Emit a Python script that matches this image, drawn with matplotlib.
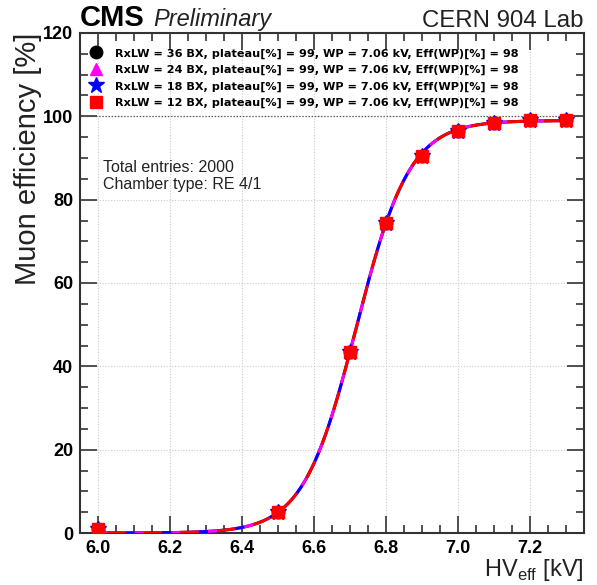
import numpy as np
import matplotlib
matplotlib.use("Agg")
import matplotlib.pyplot as plt
from matplotlib.ticker import MultipleLocator

plt.rcParams["font.family"] = ["Liberation Sans", "DejaVu Sans"]
plt.rcParams["mathtext.fontset"] = "custom"
plt.rcParams["mathtext.rm"] = "Liberation Sans"

# Data
hv = [6.0, 6.5, 6.7, 6.8, 6.9, 7.0, 7.1, 7.2, 7.3]
eff_36 = [1.0, 5.0, 43.5, 74.5, 90.5, 96.5, 98.5, 99.0, 99.0]
eff_24 = [1.0, 5.0, 43.5, 74.5, 90.5, 96.5, 98.5, 99.0, 99.0]
eff_18 = [1.0, 5.0, 43.5, 74.5, 90.5, 96.5, 98.5, 99.0, 99.0]
eff_12 = [1.0, 5.0, 43.5, 74.5, 90.5, 96.5, 98.5, 99.0, 99.0]
# Sigmoid fit parameters (plateau, slope, HV50) per series
fit_plateau = [99.0, 99.0, 99.0, 99.0]
fit_slope = [13.5, 13.5, 13.5, 13.5]
fit_hv50 = [6.718, 6.718, 6.718, 6.718]
labels = [
    "RxLW = 36 BX, plateau[%] = 99, WP = 7.06 kV, Eff(WP)[%] = 98",
    "RxLW = 24 BX, plateau[%] = 99, WP = 7.06 kV, Eff(WP)[%] = 98",
    "RxLW = 18 BX, plateau[%] = 99, WP = 7.06 kV, Eff(WP)[%] = 98",
    "RxLW = 12 BX, plateau[%] = 99, WP = 7.06 kV, Eff(WP)[%] = 98",
]
xticks = [6.0, 6.2, 6.4, 6.6, 6.8, 7.0, 7.2]
yticks = [0, 20, 40, 60, 80, 100, 120]
colors = ["black", "magenta", "blue", "red"]
markers = ["o", "^", "*", "s"]
msizes = [9, 9, 12, 8]
series = [eff_36, eff_24, eff_18, eff_12]

fig = plt.figure(figsize=(5.97, 5.85), dpi=100)
ax = fig.add_axes([80/597, 1-533/585, (584-80)/597, (533-33)/585])

xs = np.linspace(hv[0], hv[-1], 400)
handles = []
for i, (eff, c, m, ms) in enumerate(zip(series, colors, markers, msizes)):
    y = fit_plateau[i] / (1 + np.exp(-fit_slope[i] * (xs - fit_hv50[i])))
    off = i * 3.0
    ax.plot(xs, y, color=c, lw=2.2, linestyle=(off, (6, 6)), zorder=2 + i)
    h, = ax.plot(hv, eff, linestyle="none", marker=m, color=c, markersize=ms,
                 zorder=6 + i, label=labels[i])
    handles.append(h)

ax.axhline(100, color="#555555", lw=0.9, linestyle=(0, (1, 1.5)), zorder=1)

ax.set_xticks(xticks)
ax.set_yticks(yticks)
ax.set_xticklabels([f"{v:.1f}" for v in xticks], fontweight="bold", fontsize=13)
ax.set_yticklabels([f"{v}" for v in yticks], fontweight="bold", fontsize=13)
ax.set_xlim(5.95, 7.35)
ax.set_ylim(0, 120)
ax.xaxis.set_minor_locator(MultipleLocator(0.05))
ax.yaxis.set_minor_locator(MultipleLocator(5))
ax.tick_params(which="both", direction="in", top=True, right=True, width=1.2,
               color="#333333", pad=5)
ax.tick_params(which="major", length=12)
ax.tick_params(which="minor", length=6)
for sp in ax.spines.values():
    sp.set_linewidth(1.5)
    sp.set_color("#333333")
ax.grid(True, which="major", color="#cccccc", linestyle=(0, (1, 1.5)), lw=0.8)
ax.set_axisbelow(True)

fig.text(28/597, 1-33/585, "Muon efficiency [%]", rotation=90, fontsize=21,
         ha="center", va="top", color="#222222")
fig.text(584/597, 1-576/585, r"HV$_{\rm eff}$ [kV]", fontsize=17,
         ha="right", va="baseline", color="#222222")

leg = ax.legend(handles=handles, loc="upper left", bbox_to_anchor=(0.0, 0.985), frameon=False,
                prop={"family": "DejaVu Sans", "weight": "bold", "size": 8.1},
                handletextpad=0.9, labelspacing=0.55, handlelength=1.5, borderaxespad=0.3)

ax.text(0.045, 0.745, "Total entries: 2000\nChamber type: RE 4/1", transform=ax.transAxes,
        fontsize=11.5, va="top", ha="left", linespacing=1.15, color="#222222")

fig.text(80/597, 1-26/585, "CMS", fontsize=21, fontweight="bold", ha="left", va="baseline")
fig.text(153/597, 1-26/585, "Preliminary", fontsize=17, style="italic", ha="left",
         va="baseline", color="#222222")
fig.text(584/597, 1-27/585, "CERN 904 Lab", fontsize=17.3, ha="right", va="baseline",
         color="#222222")

fig.savefig("out.png", dpi=100)
